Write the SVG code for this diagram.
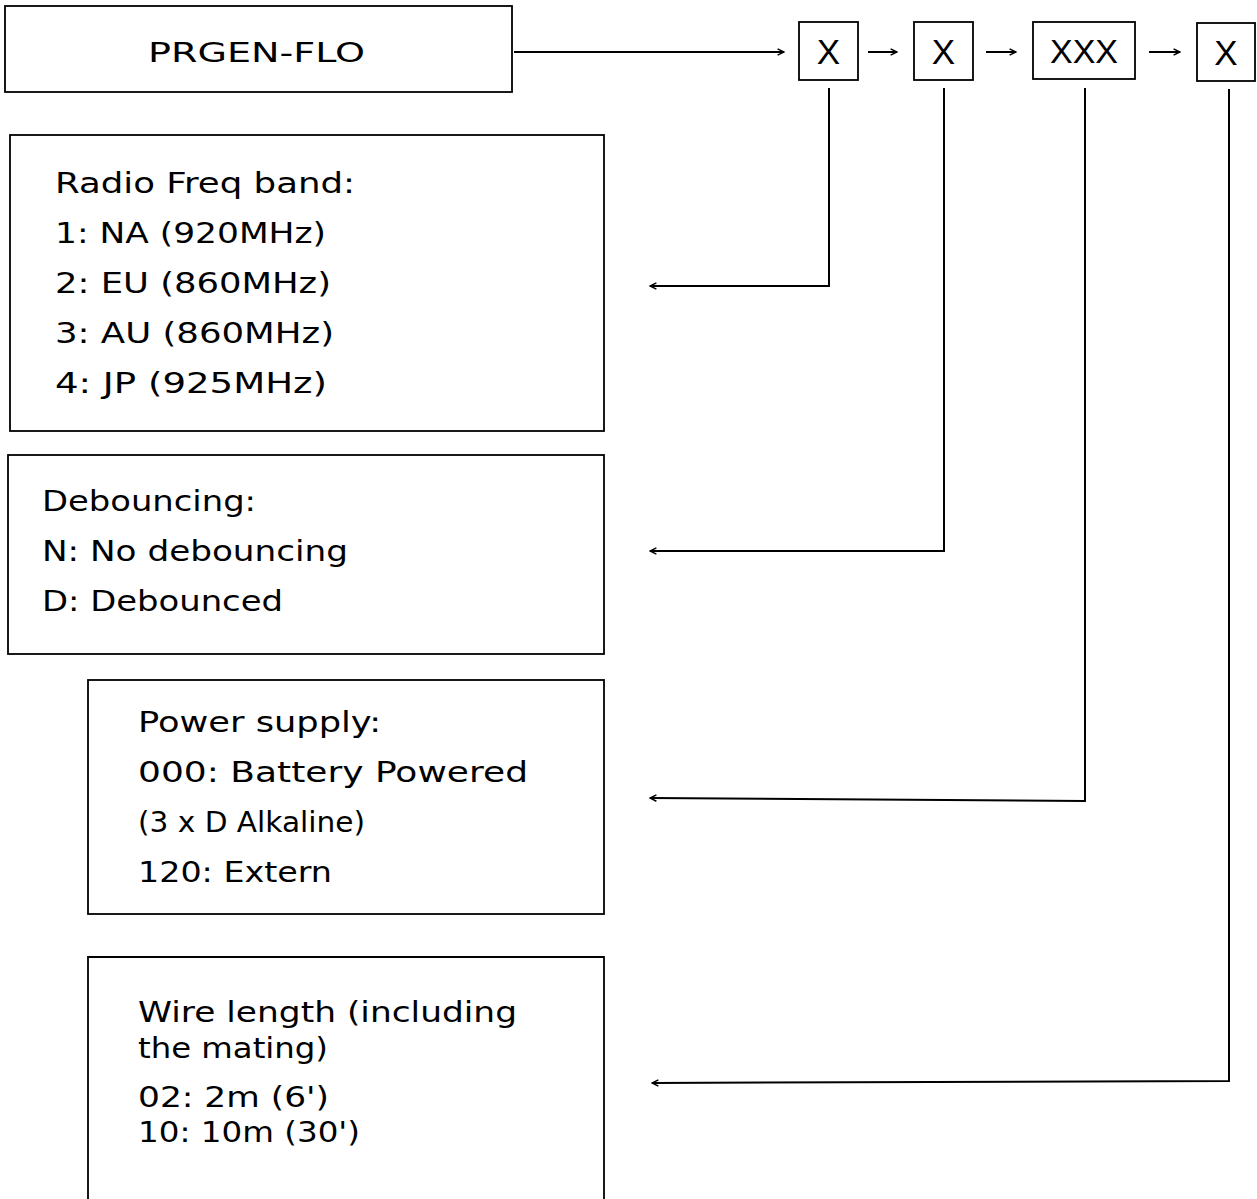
<svg xmlns="http://www.w3.org/2000/svg" width="1257" height="1199" viewBox="0 0 1257 1199">
<style>
.box{fill:#fff;stroke:#000;stroke-width:1.8}
.t{font-family:"DejaVu Sans","Noto Sans",sans-serif;font-size:28px;fill:#000}
.x{font-family:"Liberation Sans",Arial,sans-serif;font-size:35px;fill:#000;text-anchor:middle}
.c{fill:none;stroke:#000;stroke-width:2}
</style>
<defs>
<marker id="ah" viewBox="0 0 10 10" refX="9" refY="5" markerWidth="8" markerHeight="8" markerUnits="userSpaceOnUse" orient="auto">
<path d="M1,1 L9,5 L1,9" fill="none" stroke="#000" stroke-width="1.8"/>
</marker>
</defs>
<rect width="1257" height="1199" fill="#fff"/>
<g id="node-main"><rect class="box" x="5" y="6" width="507" height="86"/><text class="t" x="148" y="62" textLength="217" lengthAdjust="spacingAndGlyphs" style="font-size:27px">PRGEN-FLO</text></g>
<g id="node-x1"><rect class="box" x="799" y="22" width="59" height="58"/><text class="x" x="828.5" y="64">X</text></g>
<g id="node-x2"><rect class="box" x="914" y="22" width="59" height="58"/><text class="x" x="943.5" y="64">X</text></g>
<g id="node-xxx"><rect class="box" x="1033" y="22" width="102" height="57"/><text class="x" x="1084" y="63" style="font-size:34px">XXX</text></g>
<g id="node-x4"><rect class="box" x="1197" y="23" width="58" height="58"/><text class="x" x="1226" y="65">X</text></g>
<g id="node-radio"><rect class="box" x="10" y="135" width="594" height="296"/>
<text class="t" x="55" y="193" textLength="300" lengthAdjust="spacingAndGlyphs">Radio Freq band:</text>
<text class="t" x="55" y="243" textLength="271" lengthAdjust="spacingAndGlyphs">1: NA (920MHz)</text>
<text class="t" x="55" y="293" textLength="276" lengthAdjust="spacingAndGlyphs">2: EU (860MHz)</text>
<text class="t" x="55" y="343" textLength="279" lengthAdjust="spacingAndGlyphs">3: AU (860MHz)</text>
<text class="t" x="55" y="393" textLength="272" lengthAdjust="spacingAndGlyphs">4: JP (925MHz)</text></g>
<g id="node-debounce"><rect class="box" x="8" y="455" width="596" height="199"/>
<text class="t" x="42" y="511" textLength="214" lengthAdjust="spacingAndGlyphs">Debouncing:</text>
<text class="t" x="42" y="561" textLength="306" lengthAdjust="spacingAndGlyphs">N: No debouncing</text>
<text class="t" x="42" y="611" textLength="241" lengthAdjust="spacingAndGlyphs">D: Debounced</text></g>
<g id="node-power"><rect class="box" x="88" y="680" width="516" height="234"/>
<text class="t" x="138" y="732" textLength="243" lengthAdjust="spacingAndGlyphs">Power supply:</text>
<text class="t" x="138" y="782" textLength="390" lengthAdjust="spacingAndGlyphs">000: Battery Powered</text>
<text class="t" x="138" y="832" textLength="227" lengthAdjust="spacingAndGlyphs">(3 x D Alkaline)</text>
<text class="t" x="138" y="882" textLength="194" lengthAdjust="spacingAndGlyphs">120: Extern</text></g>
<g id="node-wire"><path class="box" d="M88,1202 V957 H604 V1202"/>
<text class="t" x="138" y="1022" textLength="379" lengthAdjust="spacingAndGlyphs">Wire length (including</text>
<text class="t" x="138" y="1058" textLength="190" lengthAdjust="spacingAndGlyphs">the mating)</text>
<text class="t" x="138" y="1107" textLength="191" lengthAdjust="spacingAndGlyphs">02: 2m (6')</text>
<text class="t" x="138" y="1142" textLength="222" lengthAdjust="spacingAndGlyphs">10: 10m (30')</text></g>
<g id="connectors">
<path class="c" d="M514,52 H784" marker-end="url(#ah)"/>
<path class="c" d="M868,52 H897" marker-end="url(#ah)"/>
<path class="c" d="M986,52 H1016" marker-end="url(#ah)"/>
<path class="c" d="M1149,52 H1180" marker-end="url(#ah)"/>
<path class="c" d="M829,88 V286 H650" marker-end="url(#ah)"/>
<path class="c" d="M944,88 V551 H650" marker-end="url(#ah)"/>
<path class="c" d="M1085,88 V801 L650,798" marker-end="url(#ah)"/>
<path class="c" d="M1229,89 V1081 L652,1083" marker-end="url(#ah)"/>
</g>
</svg>
